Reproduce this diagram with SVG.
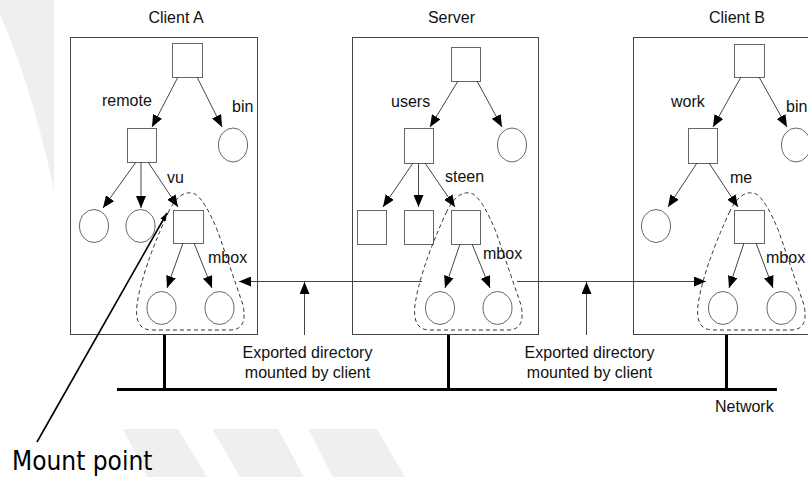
<svg xmlns="http://www.w3.org/2000/svg" width="808" height="477" viewBox="0 0 808 477">
<style>
.lbl{font-family:"Liberation Sans",Arial,sans-serif;font-size:16px;fill:#111}
.ctr{text-anchor:middle}
.box{fill:none;stroke:#444;stroke-width:1}
.dir{fill:#fff;stroke:#666;stroke-width:1}
.file{fill:#fff;stroke:#666;stroke-width:1}
.edge{fill:none;stroke:#444;stroke-width:1;marker-end:url(#ah)}
.blob{fill:none;stroke:#333;stroke-width:1;stroke-dasharray:4 3}
.net{stroke:#000;stroke-width:3;fill:none}
.wm{fill:#efefef}
</style>
<defs>
<marker id="ah" markerWidth="12" markerHeight="10" refX="12" refY="5" orient="auto" markerUnits="userSpaceOnUse"><path d="M0,0 L12,5 L0,10 z" fill="#000"/></marker>
<marker id="ahs" markerWidth="8" markerHeight="6" refX="8" refY="3" orient="auto" markerUnits="userSpaceOnUse"><path d="M0,0 L8,3 L0,6 z" fill="#000"/></marker>
</defs>
<rect width="808" height="477" fill="#fff"/>
<g id="watermark">
<path class="wm" d="M0,0 L54,0 L54,190 Q 30,80 0,15 Z"/>
<path class="wm" d="M123,429 L178,429 L207,477 L147,477 Z"/>
<path class="wm" d="M212,429 L278,429 L304,477 L240,477 Z"/>
<path class="wm" d="M308,429 L377,429 L405,477 L333,477 Z"/>
</g>
<g id="clientA">
<rect class="box" x="70.5" y="37.5" width="187" height="297"/>
<text class="lbl ctr" x="176" y="23">Client A</text>
</g>
<g id="server">
<rect class="box" x="352.5" y="37.5" width="186" height="297"/>
<text class="lbl ctr" x="451.5" y="23">Server</text>
</g>
<g id="clientB">
<rect class="box" x="633.5" y="37.5" width="200" height="297"/>
<text class="lbl ctr" x="737" y="23">Client B</text>
</g>
<g id="A_root"><rect class="dir" x="172.5" y="43.5" width="30" height="34"/></g>
<g id="A_remote"><rect class="dir" x="127.5" y="128.5" width="29" height="34"/></g>
<g id="A_bin"><ellipse class="file" cx="233" cy="145" rx="14.5" ry="17"/></g>
<g id="A_c1"><ellipse class="file" cx="94" cy="226" rx="14.5" ry="16.5"/></g>
<g id="A_c2"><ellipse class="file" cx="140.5" cy="226" rx="14.5" ry="16.5"/></g>
<g id="A_vu"><rect class="dir" x="173.5" y="210.5" width="30" height="33"/></g>
<g id="A_m1"><ellipse class="file" cx="161.5" cy="308" rx="14.5" ry="16.5"/></g>
<g id="A_m2"><ellipse class="file" cx="219.5" cy="308" rx="14.5" ry="16.5"/></g>
<g id="S_root"><rect class="dir" x="451.5" y="47.5" width="29" height="34"/></g>
<g id="S_users"><rect class="dir" x="404.5" y="128.5" width="29" height="35"/></g>
<g id="S_bin"><ellipse class="file" cx="512" cy="145" rx="14.5" ry="17"/></g>
<g id="S_s1"><rect class="dir" x="357.5" y="210.5" width="29" height="34"/></g>
<g id="S_s2"><rect class="dir" x="404.5" y="210.5" width="29" height="34"/></g>
<g id="S_steen"><rect class="dir" x="451.5" y="210.5" width="29" height="34"/></g>
<g id="S_m1"><ellipse class="file" cx="440" cy="308" rx="14.5" ry="16.5"/></g>
<g id="S_m2"><ellipse class="file" cx="497.5" cy="308" rx="14.5" ry="16.5"/></g>
<g id="B_root"><rect class="dir" x="734.5" y="44.5" width="30" height="33"/></g>
<g id="B_work"><rect class="dir" x="688.5" y="128.5" width="29" height="35"/></g>
<g id="B_bin"><ellipse class="file" cx="796" cy="145" rx="14.5" ry="17"/></g>
<g id="B_c1"><ellipse class="file" cx="656" cy="226" rx="14.5" ry="16.5"/></g>
<g id="B_me"><rect class="dir" x="734.5" y="210.5" width="30" height="33"/></g>
<g id="B_m1"><ellipse class="file" cx="723" cy="308" rx="14.5" ry="16.5"/></g>
<g id="B_m2"><ellipse class="file" cx="781.5" cy="308" rx="14.5" ry="16.5"/></g>
<g id="exports">
<path class="blob" d="M168,213 Q180,188 195,194 Q205,200 218,232 L243,305 Q248,330 230,330 L152,330 Q134,330 137,305 Q142,270 168,213 Z"/>
<path class="blob" d="M446,213 Q458,188 473,194 Q483,200 496,232 L521,305 Q526,330 508,330 L430,330 Q412,330 415,305 Q420,270 446,213 Z"/>
<path class="blob" d="M729,213 Q741,188 756,194 Q766,200 779,232 L804,305 Q809,330 791,330 L713,330 Q695,330 698,305 Q703,270 729,213 Z"/>
</g>
<g id="connectors">
<line class="edge" x1="178" y1="77" x2="152" y2="127"/>
<line class="edge" x1="197" y1="77" x2="222" y2="127"/>
<line class="edge" x1="136" y1="162" x2="103" y2="208"/>
<line class="edge" x1="141" y1="162" x2="141" y2="208"/>
<line class="edge" x1="148" y1="162" x2="178" y2="207"/>
<line class="edge" x1="183" y1="243" x2="167" y2="288"/>
<line class="edge" x1="194" y1="243" x2="212" y2="288"/>
<line class="edge" x1="458" y1="81" x2="430" y2="127"/>
<line class="edge" x1="477" y1="81" x2="502" y2="127"/>
<line class="edge" x1="413" y1="163" x2="383" y2="207"/>
<line class="edge" x1="418.5" y1="163" x2="418.5" y2="207"/>
<line class="edge" x1="425" y1="163" x2="455" y2="207"/>
<line class="edge" x1="460" y1="244" x2="445" y2="288"/>
<line class="edge" x1="472" y1="244" x2="490" y2="288"/>
<line class="edge" x1="741" y1="77" x2="713" y2="127"/>
<line class="edge" x1="759" y1="77" x2="787" y2="127"/>
<line class="edge" x1="697" y1="163" x2="668" y2="207"/>
<line class="edge" x1="709" y1="163" x2="738" y2="207"/>
<line class="edge" x1="744" y1="243" x2="729" y2="288"/>
<line class="edge" x1="756" y1="243" x2="773" y2="288"/>
<line class="edge" x1="422" y1="281.5" x2="239" y2="281.5"/>
<line class="edge" x1="517" y1="281.5" x2="706" y2="281.5"/>
<line class="edge" x1="304.5" y1="335" x2="304.5" y2="282"/>
<line class="edge" x1="586.5" y1="335" x2="586.5" y2="282"/>
<line x1="37" y1="442" x2="167" y2="213" stroke="#000" stroke-width="1.6" marker-end="url(#ahs)"/>
<path class="net" d="M117,389.5 H777 M164.5,335 V389.5 M448.5,335 V389.5 M726.5,335 V389.5"/>
</g>
<g id="labels">
<text class="lbl" x="102" y="106">remote</text>
<text class="lbl" x="232" y="112">bin</text>
<text class="lbl" x="167" y="183">vu</text>
<text class="lbl" x="208" y="263">mbox</text>
<text class="lbl" x="391" y="107">users</text>
<text class="lbl" x="445" y="182">steen</text>
<text class="lbl" x="483" y="259">mbox</text>
<text class="lbl" x="671" y="107">work</text>
<text class="lbl" x="786" y="112">bin</text>
<text class="lbl" x="766" y="263">mbox</text>
<text class="lbl" x="730" y="183">me</text>
<text class="lbl ctr" x="307.5" y="358">Exported directory</text>
<text class="lbl ctr" x="307.5" y="378">mounted by client</text>
<text class="lbl ctr" x="589.5" y="358">Exported directory</text>
<text class="lbl ctr" x="589.5" y="378">mounted by client</text>
<text class="lbl" x="715" y="412">Network</text>
<text x="12" y="470" style="font-family:'DejaVu Sans Condensed','DejaVu Sans',sans-serif;font-size:26px;fill:#000">Mount point</text>
</g>
</svg>
